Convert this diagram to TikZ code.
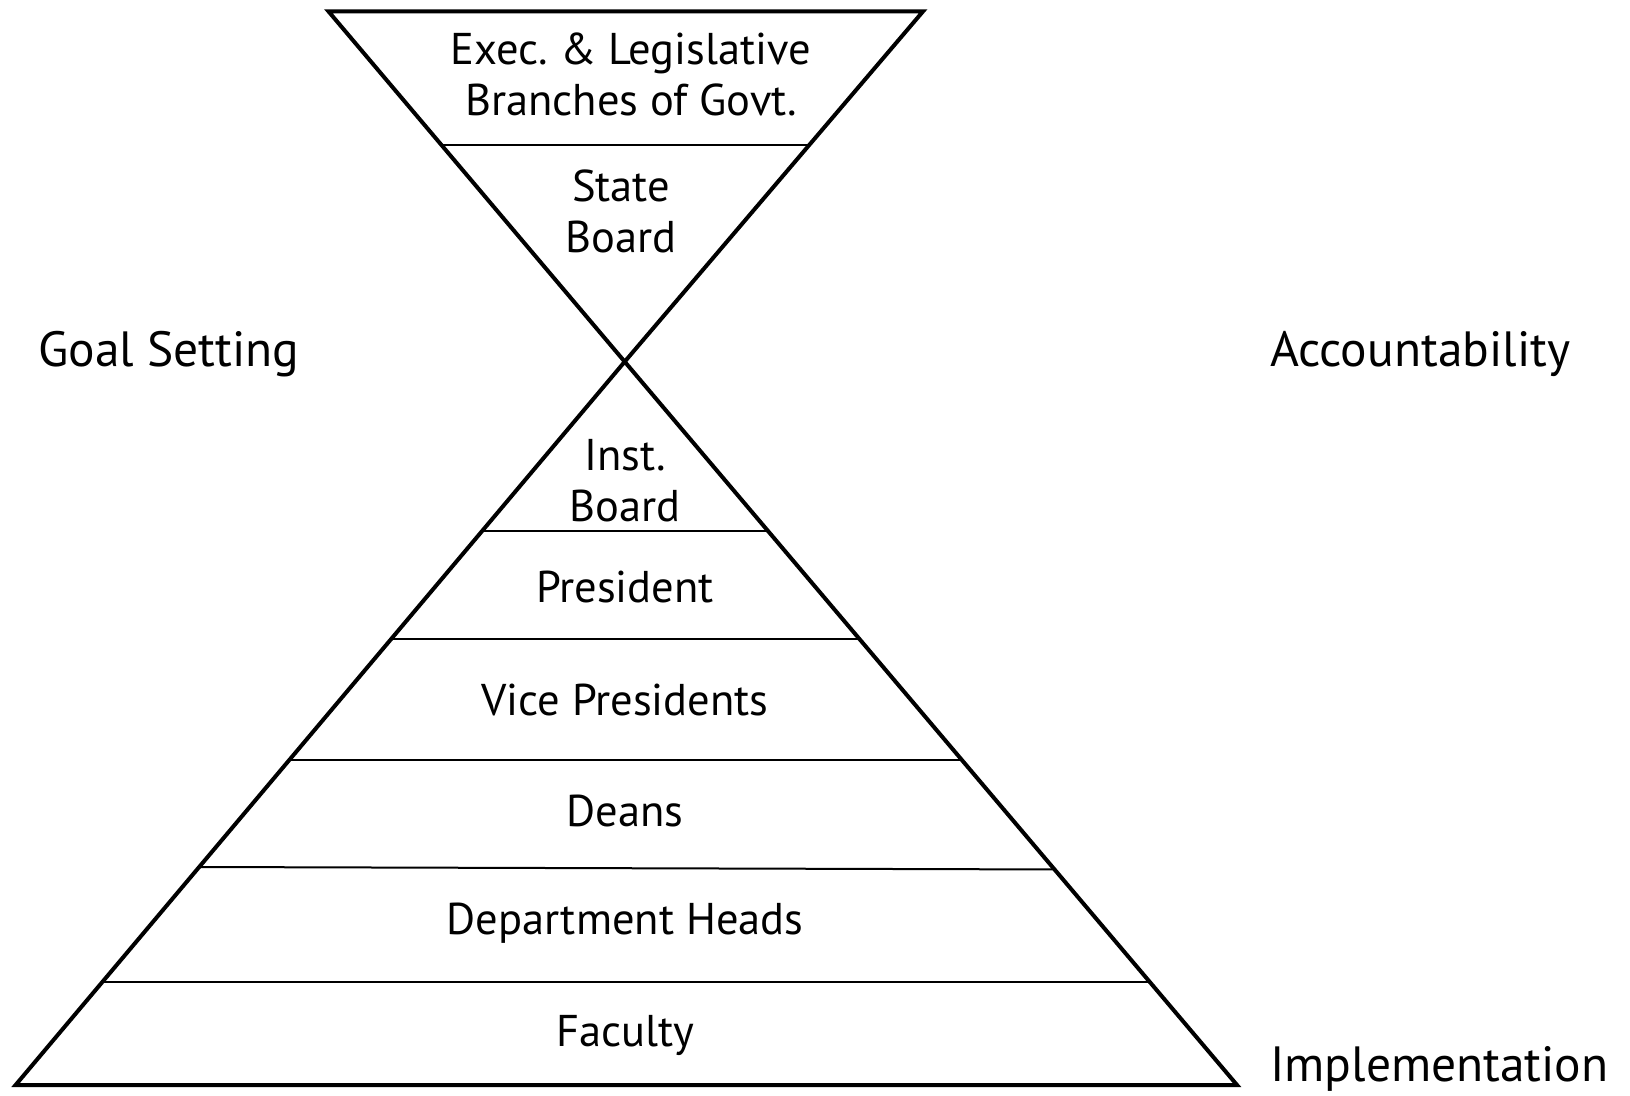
\documentclass[tikz,border=0pt]{standalone}
\usepackage{fontspec}
\setmainfont{PT Sans}
\usetikzlibrary{calc}
\frenchspacing
\begin{document}
\begin{tikzpicture}[x=1pt,y=-1pt,
  outline/.style={line width=4pt,line join=miter},
  divider/.style={line width=2pt},
  tier/.style={font=\fontsize{44.5}{51}\selectfont,align=center,inner sep=0pt},
  side/.style={font=\fontsize{49.5}{55}\selectfont,anchor=base west,inner sep=0pt}]
\useasboundingbox (0,0) rectangle (1630,1095);
% corner points of the two triangles
\coordinate (tl) at (328.5,11.4);
\coordinate (tr) at (923,11.4);
\coordinate (apex) at (624.7,361.7);
\coordinate (bl) at (15.6,1085);
\coordinate (br) at (1237,1085);
% inverted triangle and upright triangle
\draw[outline] (tl) -- (tr) -- (apex) -- cycle;
\draw[outline] (bl) -- (br) -- (apex) -- cycle;
% tier dividers
\draw[divider] ($(tl)!0.3828!(apex)$) -- ($(tr)!0.3828!(apex)$);
\draw[divider] ($(bl)!0.766!(apex)$) -- ($(br)!0.766!(apex)$);
\draw[divider] ($(bl)!0.6166!(apex)$) -- ($(br)!0.6166!(apex)$);
\draw[divider] ($(bl)!0.4493!(apex)$) -- ($(br)!0.4493!(apex)$);
\draw[divider] ($(bl)!0.3014!(apex)$) -- ($(br)!0.298!(apex)$);
\draw[divider] ($(bl)!0.1424!(apex)$) -- ($(br)!0.1424!(apex)$);
% tier labels
\node[tier] (gov) at (631,74) {Exec. \& Legislative\\Branches of Govt.};
\node[tier] (state) at (621,211) {State\\Board};
\node[tier] (inst) at (625,481) {Inst.\\Board};
\node[tier] (pres) at (625,587) {President};
\node[tier] (vp) at (625,700) {Vice Presidents};
\node[tier] (deans) at (625,811) {Deans};
\node[tier] (heads) at (625,923) {Department Heads};
\node[tier] (fac) at (625,1035) {Faculty};
% side labels
\node[side] (goal) at (38,366) {Goal Setting};
\node[side] (acct) at (1270,366) {Accountability};
\node[side] (impl) at (1270,1081) {Implementation};
\end{tikzpicture}
\end{document}
